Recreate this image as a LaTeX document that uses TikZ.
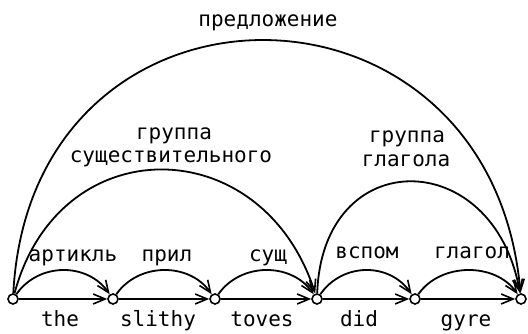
\documentclass[tikz,border=0pt]{standalone}
\usepackage{fontspec}
\setmainfont{DejaVu Sans Mono}
\usetikzlibrary{arrows.meta}
\begin{document}
\begin{tikzpicture}[x=1pt,y=1pt,
  lbl/.style={font=\fontsize{21}{23}\selectfont, anchor=base, inner sep=0pt},
  state/.style={circle, draw, line width=1.6pt, fill=white, minimum size=10pt, inner sep=0pt},
  edge/.style={line width=1.8pt, -{Straight Barb[length=12pt,width=10pt,line width=1.6pt]}},
]
\useasboundingbox (0,0) rectangle (528,334);
% states
\node[state] (n0) at (13,35) {};
\node[state] (n1) at (113,35) {};
\node[state] (n2) at (215,35) {};
\node[state] (n3) at (317,35) {};
\node[state] (n4) at (415,35) {};
\node[state] (n5) at (521,35) {};
% words
\node[lbl] (w0) at (60,7) {the};
\node[lbl] (w1) at (158,7) {slithy};
\node[lbl] (w2) at (262,7) {toves};
\node[lbl] (w3) at (359,7) {did};
\node[lbl] (w4) at (466,7) {gyre};
% baseline arrows
\draw[edge] (n0) -- (n1);
\draw[edge] (n1) -- (n2);
\draw[edge] (n2) -- (n3);
\draw[edge] (n3) -- (n4);
\draw[edge] (n4) -- (n5);
% small arcs
\draw[edge] (n0) to[out=55,in=125,distance=39pt] (n1);
\draw[edge] (n1) to[out=55,in=125,distance=39pt] (n2);
\draw[edge] (n2) to[out=55,in=125,distance=39pt] (n3);
\draw[edge] (n3) to[out=55,in=125,distance=39pt] (n4);
\draw[edge] (n4) to[out=55,in=125,distance=39pt] (n5);
\node[lbl] (l0) at (73,72) {артикль};
\node[lbl] (l1) at (167,72) {прил};
\node[lbl] (l2) at (268,72) {сущ};
\node[lbl] (l3) at (367,75) {вспом};
\node[lbl] (l4) at (472,75) {глагол};
% group arcs
\draw[edge] (n0) to[out=75,in=108,distance=172pt] (n3);
\draw[edge] (n3) to[out=88,in=100,distance=150pt] (n5);
\draw[edge] (n0) to[out=87,in=95,distance=338pt] (n5);
\node[lbl] (g1a) at (174,194) {группа};
\node[lbl] (g1b) at (171,171) {существительного};
\node[lbl] (g2a) at (407,191) {группа};
\node[lbl] (g2b) at (406,167) {глагола};
\node[lbl] (s) at (268,307) {предложение};
\end{tikzpicture}
\end{document}
